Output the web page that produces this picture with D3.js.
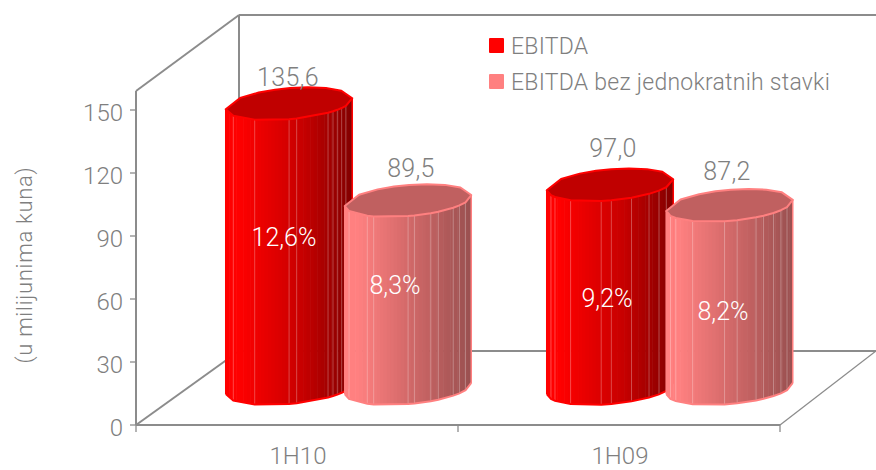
<!DOCTYPE html>
<html><head><meta charset="utf-8">
<script src="https://cdn.jsdelivr.net/npm/d3@7/dist/d3.min.js"></script>
<style>html,body{margin:0;padding:0;background:#fff}svg{display:block}text{font-family:Roboto,sans-serif;font-weight:300}</style>
</head><body><svg id="c" width="876" height="470"></svg>
<script>
const categories = ["1H10","1H09"];
const seriesNames = ["EBITDA","EBITDA bez jednokratnih stavki"];
const ebitda = [135.6,97.0];
const ebitdaAdj = [89.5,87.2];
const valueText = [["135,6","97,0"],["89,5","87,2"]];
const pctText = [["12,6%","9,2%"],["8,3%","8,2%"]];
const yTicks = [0,30,60,90,120,150];

const svg = d3.select("#c");
const gray = "#7f7f7f";
const axisGray = "#8c8c8c";
const y = d3.scaleLinear().domain([0,150]).range([425,110]);
const x = d3.scaleBand().domain(categories).range([136,780]);

const lines = [
 [239,15,876,15,2],[239,15,239,351,2],[239,351,876,351,2],[136,91,239,15,2],
 [136,425,239,351,2],[780,425,876,351,1.3],[136,91,136,425,2],[136,425,780,425,2]
];
svg.selectAll("line.f").data(lines).join("line").attr("class","f")
 .attr("x1",d=>d[0]).attr("y1",d=>d[1]).attr("x2",d=>d[2]).attr("y2",d=>d[3])
 .attr("stroke",axisGray).attr("stroke-width",d=>d[4]);
svg.selectAll("line.yt").data(yTicks).join("line").attr("class","yt")
 .attr("x1",130).attr("x2",136).attr("y1",y).attr("y2",y).attr("stroke",axisGray).attr("stroke-width",1.3);
svg.selectAll("line.xt").data([x.range()[0],x(categories[1]),x.range()[1]]).join("line").attr("class","xt")
 .attr("x1",d=>d).attr("x2",d=>d).attr("y1",425).attr("y2",432).attr("stroke",axisGray).attr("stroke-width",1.3);
svg.selectAll("text.yl").data(yTicks).join("text").attr("class","yl")
 .attr("x",123).attr("y",d=>y(d)+11).attr("text-anchor","end").attr("font-size",24).attr("fill",gray).text(d=>d);
svg.selectAll("text.xl").data(categories).join("text").attr("class","xl")
 .attr("x",d=>x(d)+x.bandwidth()/2+1).attr("y",464).attr("text-anchor","middle").attr("font-size",24).attr("fill",gray).text(d=>d);
svg.append("text").attr("transform","translate(32,265) rotate(-90)").attr("text-anchor","middle")
 .attr("font-size",22).attr("letter-spacing",.7).attr("fill",gray).text("(u milijunima kuna)");

const styles = [
 {top:"#c00000",stroke:"#ff0000",stops:["#ff0000","#ff0000","#c80000","#820000"]},
 {top:"#c06060",stroke:"#ff8080",stops:["#ff8080","#ff8080","#c86464","#995050"]}
];
const ribSets = [
 [[.055,.22,.49,.55,.80,.84,.875,.91,.945],[.03,.06,.18,.42,.5,.66,.8,.88,.94]],
 [[.03,.17,.22,.49,.54,.67,.73,.85,.9,.95],[.03,.07,.2,.45,.55,.7,.76,.84,.9,.95]]
];
const rx=63.5, ry=15.5, phi=-5*Math.PI/180, baseY=388.5;
function pt(cx,cy,t){
 const a=rx*Math.cos(t), b=ry*Math.sin(t);
 return [cx+a*Math.cos(phi)-b*Math.sin(phi), cy+a*Math.sin(phi)+b*Math.cos(phi)];
}
function drawBar(cx,v,s,c){
 const st=styles[s], h=y(0)-y(v), topY=baseY-h;
 const ribs=[0,...ribSets[s][c],1];
 const thetas=ribs.map(f=>Math.PI-Math.acos(1-2*f));
 const fr=thetas.map(t=>pt(cx,0,t));
 const xs=fr.map(p=>p[0]), ys=fr.map(p=>p[1]);
 const edge=d3.scaleLinear().domain(xs).range(ys);
 const colour=d3.scaleLinear().domain([0,.1,.6,1]).range(st.stops);
 const g=svg.append("g");
 const x0=xs[0], x1=xs[xs.length-1], n=36;
 const bands=d3.range(n);
 g.selectAll("path.b").data(bands).join("path").attr("class","b")
  .attr("d",i=>{
    const a=x0+(x1-x0)*i/n, b=Math.min(x0+(x1-x0)*(i+1)/n+.6,x1);
    return `M${a},${topY+edge(a)}L${b},${topY+edge(b)}L${b},${baseY+edge(b)}L${a},${baseY+edge(a)}Z`;
  }).attr("fill",i=>colour((i+.5)/n));
 g.selectAll("line.r").data(fr.slice(1,-1)).join("line").attr("class","r")
  .attr("x1",p=>p[0]).attr("x2",p=>p[0]).attr("y1",p=>topY+p[1]).attr("y2",p=>baseY+p[1])
  .attr("stroke","#fff").attr("stroke-opacity",.28).attr("stroke-width",1);
 g.append("path").attr("fill","none").attr("stroke",st.stroke).attr("stroke-width",2)
  .attr("d",d3.line()(fr.map(p=>[p[0],baseY+p[1]])));
 g.append("path").attr("fill","none").attr("stroke",st.stroke).attr("stroke-width",1.5)
  .attr("d",`M${x0},${topY+ys[0]}V${baseY+ys[0]}M${x1},${topY+ys[ys.length-1]}V${baseY+ys[ys.length-1]}`);
 const backPts=[.92,.8,.66,.52,.4,.27,.12].map(f=>pt(cx,topY,-Math.PI+Math.acos(1-2*f)));
 g.append("path").attr("fill",st.top).attr("stroke",st.stroke).attr("stroke-width",2).attr("stroke-linejoin","round")
  .attr("d",d3.line()([...thetas.map(t=>pt(cx,topY,t)),...backPts])+"Z");
}
const series=[ebitda,ebitdaAdj];
const centres=[[289,610],[408,729.5]];
const valueX=[[288,613],[411,727]];
const valueY=[[86,157],[177,180]];
const pctX=[[284,607],[395,723]];
const pctY=[[246,307],[294,320]];
categories.forEach((cat,c)=>{ series.forEach((arr,s)=>drawBar(centres[s][c],arr[c],s,c)); });
series.forEach((arr,s)=>categories.forEach((cat,c)=>{
 svg.append("text").attr("x",valueX[s][c]).attr("y",valueY[s][c]).attr("text-anchor","middle")
  .attr("font-size",25).attr("letter-spacing",.3).attr("fill",gray).text(valueText[s][c]);
 svg.append("text").attr("x",pctX[s][c]).attr("y",pctY[s][c]).attr("text-anchor","middle")
  .attr("font-size",25).attr("fill","#fff").text(pctText[s][c]);
}));
const legY=[38,74], legC=["#ff0000","#ff8080"];
seriesNames.forEach((n,i)=>{
 svg.append("rect").attr("x",489).attr("y",legY[i]).attr("width",15).attr("height",15).attr("rx",1).attr("fill",legC[i]);
 svg.append("text").attr("x",511).attr("y",legY[i]+16).attr("font-size",23).attr("letter-spacing",.25).attr("fill",gray).text(n);
});
</script></body></html>
